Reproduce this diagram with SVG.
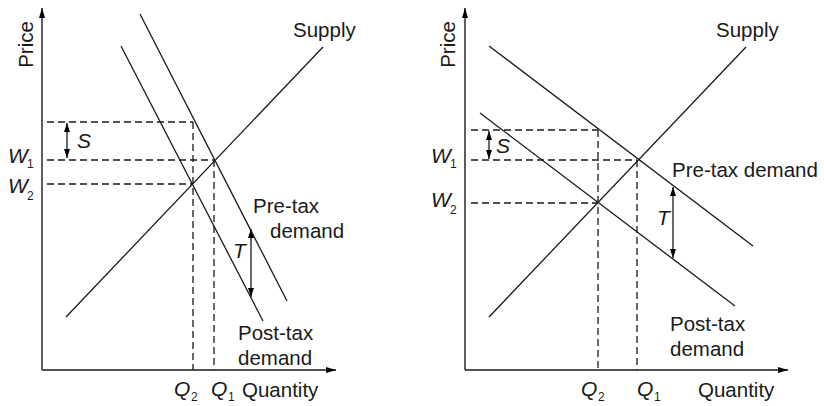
<svg xmlns="http://www.w3.org/2000/svg" width="824" height="406" viewBox="0 0 824 406">
<defs>
<marker id="ah" viewBox="0 0 10 6" refX="10" refY="3" markerWidth="10" markerHeight="6" markerUnits="userSpaceOnUse" orient="auto-start-reverse"><path d="M0,0 L10,3 L0,6 z" fill="#000"/></marker>
<marker id="sh" viewBox="0 0 9 6" refX="9" refY="3" markerWidth="9" markerHeight="6" markerUnits="userSpaceOnUse" orient="auto-start-reverse"><path d="M0,0 L9,3 L0,6 z" fill="#000"/></marker>
</defs>
<style>
.ln{stroke:#1a1a1a;stroke-width:1.3;fill:none}
.ax{stroke:#1a1a1a;stroke-width:1.4;fill:none;marker-end:url(#ah)}
.ds{stroke:#1a1a1a;stroke-width:1.3;fill:none;stroke-dasharray:7 4}
.dbl{stroke:#1a1a1a;stroke-width:1.3;fill:none;marker-start:url(#sh);marker-end:url(#sh)}
text{font-family:"Liberation Sans",Arial,sans-serif;font-size:20.5px;fill:#1a1a1a}
.it{font-style:italic;font-size:21px}
.sub{font-size:12px;font-style:normal}
</style>
<rect width="824" height="406" fill="#fff"/>

<!-- Left panel -->
<g id="left-axes">
<line class="ax" x1="42" y1="370" x2="42" y2="8"/>
<line class="ax" x1="42" y1="370" x2="336" y2="370"/>
<text transform="translate(33,44.5) rotate(-90)" text-anchor="middle">Price</text>
<text x="242" y="397">Quantity</text>
</g>
<g id="left-connectors">
<line class="ds" x1="47" y1="122" x2="193" y2="122"/>
<line class="ds" x1="193" y1="122" x2="193" y2="370"/>
<line class="ds" x1="47" y1="160" x2="214" y2="160"/>
<line class="ds" x1="214" y1="160" x2="214" y2="370"/>
<line class="ds" x1="47" y1="184" x2="193" y2="184"/>
<line class="dbl" x1="67" y1="123" x2="67" y2="158"/>
<line class="dbl" x1="251" y1="229" x2="251" y2="297"/>
</g>
<g id="left-supply">
<line class="ln" x1="66" y1="317" x2="323" y2="47"/>
<text x="293" y="37">Supply</text>
</g>
<g id="left-pretax">
<line class="ln" x1="140" y1="14" x2="287" y2="301"/>
<text x="253" y="213">Pre-tax</text>
<text x="270" y="238">demand</text>
</g>
<g id="left-posttax">
<line class="ln" x1="121" y1="46" x2="263" y2="321"/>
<text x="238" y="340">Post-tax</text>
<text x="238" y="365">demand</text>
</g>
<g id="left-labels">
<text class="it" x="77" y="148">S</text>
<text class="it" x="233" y="258">T</text>
<text class="it" x="8" y="163">W</text><text class="sub" x="27" y="168">1</text>
<text class="it" x="8" y="193">W</text><text class="sub" x="27" y="200">2</text>
<text class="it" x="174" y="396">Q</text><text class="sub" x="191" y="401">2</text>
<text class="it" x="211" y="396">Q</text><text class="sub" x="228" y="401">1</text>
</g>

<!-- Right panel -->
<g id="right-axes">
<line class="ax" x1="465" y1="370" x2="465" y2="8"/>
<line class="ax" x1="465" y1="370" x2="788" y2="370"/>
<text transform="translate(455,44.5) rotate(-90)" text-anchor="middle">Price</text>
<text x="698" y="397">Quantity</text>
</g>
<g id="right-connectors">
<line class="ds" x1="471" y1="130" x2="598" y2="130"/>
<line class="ds" x1="598" y1="130" x2="598" y2="370"/>
<line class="ds" x1="471" y1="160" x2="637" y2="160"/>
<line class="ds" x1="637" y1="160" x2="637" y2="370"/>
<line class="ds" x1="471" y1="203" x2="598" y2="203"/>
<line class="dbl" x1="489" y1="131" x2="489" y2="159"/>
<line class="dbl" x1="673" y1="187" x2="673" y2="258"/>
</g>
<g id="right-supply">
<line class="ln" x1="489" y1="317" x2="746" y2="47"/>
<text x="716" y="37">Supply</text>
</g>
<g id="right-pretax">
<line class="ln" x1="489" y1="46" x2="753" y2="246"/>
<text x="672" y="177">Pre-tax demand</text>
</g>
<g id="right-posttax">
<line class="ln" x1="480" y1="113" x2="735" y2="306"/>
<text x="670" y="331">Post-tax</text>
<text x="670" y="356">demand</text>
</g>
<g id="right-labels">
<text class="it" x="496" y="153">S</text>
<text class="it" x="657" y="225">T</text>
<text class="it" x="431" y="163">W</text><text class="sub" x="450" y="168">1</text>
<text class="it" x="431" y="207">W</text><text class="sub" x="450" y="214">2</text>
<text class="it" x="581" y="396">Q</text><text class="sub" x="598" y="401">2</text>
<text class="it" x="637" y="396">Q</text><text class="sub" x="654" y="401">1</text>
</g>
</svg>
